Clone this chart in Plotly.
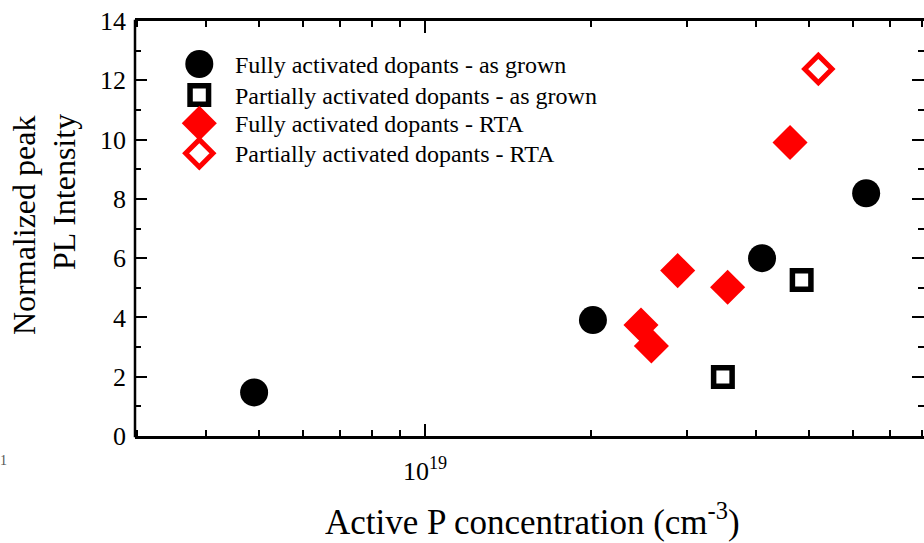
import plotly.graph_objects as go

# ---- data ----
full_grown_x = [4.89e18, 2.02e19, 4.10e19, 6.34e19]
full_grown_y = [1.47, 3.91, 6.0, 8.19]
part_grown_x = [3.48e19, 4.84e19]
part_grown_y = [1.99, 5.26]
full_rta_x = [2.47e19, 2.58e19, 2.88e19, 3.55e19, 4.61e19]
full_rta_y = [3.745, 3.04, 5.58, 5.02, 9.9]
part_rta_x = [5.19e19]
part_rta_y = [12.38]

series_names = [
    "Fully activated dopants - as grown",
    "Partially activated dopants - as grown",
    "Fully activated dopants - RTA",
    "Partially activated dopants - RTA",
]
x_major_ticks = [1e19]
x_major_text = ["10<sup>19</sup>"]
x_minor_ticks = [3e18, 4e18, 5e18, 6e18, 7e18, 8e18, 9e18,
                 2e19, 3e19, 4e19, 5e19, 6e19, 7e19, 8e19]
x_title = "Active P concentration (cm<sup>-3</sup>)"
y_title_lines = ["Normalized peak", "PL Intensity"]

FONT = "Liberation Serif, Times New Roman, serif"
W, H = 924, 543
L, R, T, B = 135, 0, 21, 107
PW, PH = W - L - R, H - T - B

def px2paper_x(px):
    return (px - L) / PW

def px2paper_y(py):
    return (H - B - py) / PH

styles = [
    dict(symbol="circle", size=28, color="black", line=dict(width=0)),
    dict(symbol="square-open", size=18.5, color="black", line=dict(width=5.5, color="black")),
    dict(symbol="diamond", size=27, color="red", line=dict(width=0)),
    dict(symbol="diamond-open", size=21, color="red", line=dict(width=5, color="red")),
]
xs = [full_grown_x, part_grown_x, full_rta_x, part_rta_x]
ys = [full_grown_y, part_grown_y, full_rta_y, part_rta_y]

fig = go.Figure()
for xv, yv, st, nm in zip(xs, ys, styles, series_names):
    fig.add_trace(go.Scatter(x=xv, y=yv, mode="markers", name=nm,
                             marker=st, showlegend=False, cliponaxis=False))

# custom legend (glyphs on an overlay axis spanning the plot area)
leg_x_px = 199.3
leg_y_px = [64, 95, 123.3, 153.3]
for i, (st, nm) in enumerate(zip(styles, series_names)):
    fig.add_trace(go.Scatter(x=[px2paper_x(leg_x_px)], y=[px2paper_y(leg_y_px[i])],
                             mode="markers", marker=st, showlegend=False,
                             xaxis="x2", yaxis="y2", hoverinfo="skip"))
    fig.add_annotation(x=px2paper_x(233), y=px2paper_y(leg_y_px[i] + 1), xref="paper", yref="paper",
                       text=nm, showarrow=False, xanchor="left", yanchor="middle",
                       font=dict(family=FONT, size=24, color="black"))

fig.update_layout(
    width=W, height=H,
    margin=dict(l=L, r=R, t=T, b=B),
    paper_bgcolor="white", plot_bgcolor="white",
    showlegend=False,
    xaxis=dict(
        type="log",
        range=[19 - 290 / 550, 19 + (PW - 290) / 550],
        tickmode="array", tickvals=x_major_ticks, ticktext=x_major_text,
        ticks="inside", ticklen=12, tickwidth=2, tickcolor="black",
        minor=dict(tickmode="array", tickvals=x_minor_ticks, ticks="inside",
                   ticklen=6, tickwidth=2, tickcolor="black", showgrid=False),
        showline=True, linewidth=2.5, linecolor="black", mirror="ticks",
        showgrid=False, zeroline=False,
        tickfont=dict(family=FONT, size=26, color="black"),
        ticklabelstandoff=10,
    ),
    yaxis=dict(
        range=[0, 14], tickmode="linear", tick0=0, dtick=2,
        ticks="inside", ticklen=12, tickwidth=2, tickcolor="black",
        minor=dict(dtick=1, ticks="inside", ticklen=6, tickwidth=2,
                   tickcolor="black", showgrid=False),
        showline=False, mirror="ticks",
        showgrid=False, zeroline=False,
        tickfont=dict(family=FONT, size=26, color="black"),
        ticklabelstandoff=8,
    ),
    xaxis2=dict(range=[0, 1], overlaying="x", visible=False, fixedrange=True),
    yaxis2=dict(range=[0, 1], overlaying="y", visible=False, fixedrange=True),
)

# left frame line (the right one lies outside the picture in the reference)
fig.add_shape(type="line", xref="paper", yref="paper", x0=0, x1=0, y0=-0.003, y1=1.003,
              line=dict(color="black", width=2.5))

fig.add_annotation(x=px2paper_x(532), y=px2paper_y(519), xref="paper", yref="paper",
                   text=x_title, showarrow=False, xanchor="center", yanchor="middle",
                   font=dict(family=FONT, size=35, color="black"))
fig.add_annotation(x=px2paper_x(24), y=px2paper_y(225), xref="paper", yref="paper",
                   text=y_title_lines[0], showarrow=False, textangle=-90,
                   xanchor="center", yanchor="middle",
                   font=dict(family=FONT, size=32, color="black"))
fig.add_annotation(x=px2paper_x(64), y=px2paper_y(192), xref="paper", yref="paper",
                   text=y_title_lines[1], showarrow=False, textangle=-90,
                   xanchor="center", yanchor="middle",
                   font=dict(family=FONT, size=32, color="black"))
fig.add_annotation(x=px2paper_x(3), y=px2paper_y(460), xref="paper", yref="paper",
                   text="1", showarrow=False, xanchor="center", yanchor="middle",
                   font=dict(family=FONT, size=14, color="#555"))

fig.write_html("out.html")
